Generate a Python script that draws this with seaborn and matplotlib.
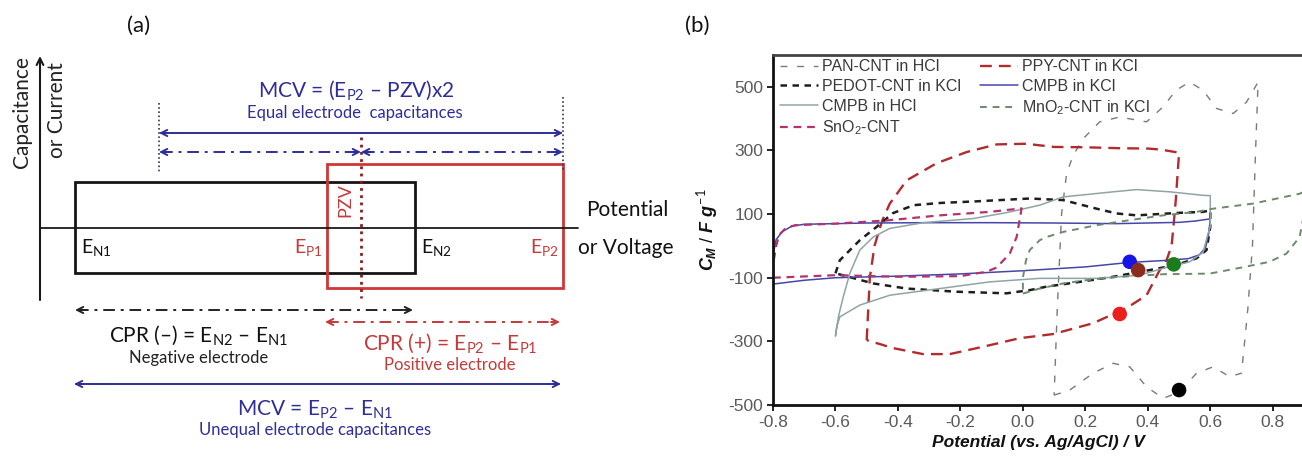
import matplotlib
matplotlib.use("Agg")
import matplotlib.pyplot as plt
from matplotlib.patches import Rectangle
import pandas as pd
import seaborn as sns

# ---------------- data: panel (b) cyclic voltammograms ----------------
pan_x = [0.10, 0.15, 0.225, 0.289, 0.342, 0.396, 0.449, 0.50, 0.556, 0.609, 0.662, 0.70, 0.72, 0.735, 0.745, 0.753,
         0.716, 0.673, 0.62, 0.577, 0.534, 0.49, 0.449, 0.396, 0.31, 0.246, 0.193, 0.161, 0.14, 0.124, 0.11, 0.10]
pan_y = [-469, -453, -400, -369, -380, -443, -479, -460, -400, -380, -411, -400, -200, 0, 300, 515,
         452, 416, 432, 489, 515, 489, 437, 390, 405, 390, 337, 285, 227, 102, -200, -469]

ppy_x = [-0.50, -0.49, -0.475, -0.46, -0.45, -0.426, -0.372, -0.276, -0.18, -0.084, 0.01, 0.10, 0.20, 0.31, 0.40, 0.44,
         0.50, 0.49, 0.482, 0.476, 0.46, 0.438, 0.396, 0.342, 0.31, 0.225, 0.097, -0.01, -0.128, -0.234, -0.32, -0.416, -0.50]
ppy_y = [-296, -100, 0, 50, 80, 133, 206, 260, 295, 319, 321, 311, 310, 307, 306, 303,
         293, 150, 60, 0, -45, -76, -155, -189, -205, -243, -277, -290, -317, -340, -340, -321, -296]

pedot_x = [-0.60, -0.586, -0.522, -0.468, -0.416, -0.35, -0.264, -0.15, 0.022, 0.129, 0.236, 0.30, 0.364, 0.502, 0.577, 0.60,
           0.60, 0.588, 0.556, 0.49, 0.406, 0.289, 0.182, 0.076, 0.022, -0.052, -0.212, -0.372, -0.479, -0.60]
pedot_y = [-86, -45, 18, 60, 103, 128, 135, 140, 149, 144, 117, 102, 96, 104, 107, 112,
           60, -13, -39, -60, -76, -97, -113, -128, -139, -149, -144, -134, -118, -86]

cmpb_kcl_x = [-0.80, -0.70, -0.60, -0.40, -0.20, 0.00, 0.20, 0.34, 0.45, 0.53, 0.565, 0.585, 0.595, 0.60,
              0.55, 0.50, 0.30, 0.10, -0.10, -0.30, -0.50, -0.70, -0.74, -0.77, -0.79, -0.80, -0.80]
cmpb_kcl_y = [-120, -108, -100, -95, -88, -78, -66, -52, -46, -40, -28, -5, 40, 85,
              78, 74, 70, 72, 73, 73, 72, 68, 62, 45, 20, -30, -120]

cmpb_hcl_x = [-0.60, -0.59, -0.575, -0.554, -0.522, -0.479, -0.426, -0.319, -0.159, -0.05, 0.054, 0.129, 0.289, 0.364,
              0.47, 0.577, 0.60, 0.60, 0.593, 0.577, 0.534, 0.45, 0.374, 0.236, 0.054, -0.106, -0.266, -0.426,
              -0.522, -0.586, -0.596, -0.60]
cmpb_hcl_y = [-283, -220, -160, -86, -13, 28, 55, 73, 86, 105, 128, 154, 170, 177,
              170, 159, 158, 60, 40, -20, -50, -70, -92, -102, -102, -113, -134, -155,
              -186, -223, -254, -283]

mno2_x = [0.00, 0.05, 0.129, 0.20, 0.30, 0.449, 0.598, 0.684, 0.79, 0.844, 0.886, 0.90, 0.90,
          0.886, 0.737, 0.609, 0.556, 0.449, 0.342, 0.236, 0.129, 0.076, 0.054, 0.022, 0.01, 0.00, 0.00]
mno2_y = [-150, -135, -118, -108, -98, -89, -87, -71, -50, -24, 28, 100, 170,
          164, 133, 117, 107, 96, 81, 65, 44, 28, 18, -13, -45, -100, -150]

sno2_x = [-0.80, -0.60, -0.40, -0.20, -0.116, -0.084, -0.042, -0.02, -0.004, -0.106, -0.266, -0.436, -0.60,
          -0.73, -0.76, -0.78, -0.79, -0.80, -0.80]
sno2_y = [-100, -92, -97, -95, -81, -68, -24, 28, 118, 107, 96, 80, 70,
          65, 55, 35, 0, -60, -100]

series_names = ["PAN-CNT in HCl", "PPY-CNT in KCl", "PEDOT-CNT in KCl", "CMPB in KCl",
                "CMPB in HCl", "MnO$_{\\mathsf{2}}$-CNT in KCl", "SnO$_{\\mathsf{2}}$-CNT"]

# points marked on curves
dot_x = [0.342, 0.369, 0.483, 0.31, 0.50]
dot_y = [-50, -76, -58, -214, -453]
dot_colors = ["#1515e6", "#8b2c1c", "#1c7c1c", "#ec1f1f", "#000000"]

x_ticks = [-0.8, -0.6, -0.4, -0.2, 0.0, 0.2, 0.4, 0.6, 0.8]
y_ticks = [-500, -300, -100, 100, 300, 500]

# ---------------- data: panel (a) schematic (diagram units) ----------------
E_N1, E_N2 = 75, 415          # negative electrode potential window
E_P1, E_P2 = 327, 563         # positive electrode potential window
PZV = 361                     # potential of zero voltage
E_LEFT_MCV = 159              # left limit of the equal-capacitance MCV
NEG_RECT = (182, 273)         # current levels of the negative electrode box
POS_RECT = (164, 288)         # current levels of the positive electrode box
AXIS_LEVEL = 228

W, H = 1302, 466
sns.set_theme(style="white")
plt.rcParams["font.family"] = ["Liberation Sans", "DejaVu Sans"]
plt.rcParams["mathtext.fontset"] = "custom"
plt.rcParams["mathtext.rm"] = "Lato"
plt.rcParams["mathtext.sf"] = "Liberation Sans"
plt.rcParams["mathtext.it"] = "Liberation Sans:italic:bold"
plt.rcParams["mathtext.bf"] = "Liberation Sans:bold"

fig = plt.figure(figsize=(W / 100, H / 100), dpi=100)
fig.patch.set_facecolor("white")

# ======================= panel (a) =======================
axA = fig.add_axes([0, 0, 660 / W, 1])
axA.set_xlim(0, 660)
axA.set_ylim(H, 0)
axA.axis("off")

BLUE = "#2e2e98"
RED = "#c43a3a"
DARKRED = "#8e1c1c"
LF = ["Lato", "DejaVu Sans"]


def dbl_arrow(ax, x0, x1, y, color, ls):
    ax.plot([x0 + 2, x1 - 2], [y, y], color=color, lw=1.4, ls=ls)
    for xa, xb in ((x0 + 9, x0), (x1 - 9, x1)):
        ax.annotate("", xy=(xb, y), xytext=(xa, y),
                    arrowprops=dict(arrowstyle="->", color=color, lw=1.4, mutation_scale=11,
                                    shrinkA=0, shrinkB=0))


# axes of the schematic
axA.annotate("", xy=(40, 56), xytext=(40, 300),
             arrowprops=dict(arrowstyle="->", color="k", lw=1.5, mutation_scale=12, shrinkA=0, shrinkB=0))
axA.plot([40, 578], [AXIS_LEVEL, AXIS_LEVEL], color="k", lw=1.3)

axA.add_patch(Rectangle((E_N1, NEG_RECT[0]), E_N2 - E_N1, NEG_RECT[1] - NEG_RECT[0],
                        fill=False, ec="#151515", lw=2.0))
axA.add_patch(Rectangle((E_P1, POS_RECT[0]), E_P2 - E_P1, POS_RECT[1] - POS_RECT[0],
                        fill=False, ec="#cf3636", lw=2.0))
axA.plot([PZV, PZV], [137, 298], color=DARKRED, ls=(0, (1, 1.6)), lw=2)
axA.plot([E_LEFT_MCV, E_LEFT_MCV], [103, 172], color="#333355", ls=(0, (1, 1.5)), lw=1.2)
axA.plot([E_P2, E_P2], [97, 170], color="#333355", ls=(0, (1, 1.5)), lw=1.2)

dbl_arrow(axA, E_LEFT_MCV, E_P2, 133, BLUE, "-")
dbl_arrow(axA, E_LEFT_MCV, PZV, 152, BLUE, (0, (6, 3, 1.5, 3)))
dbl_arrow(axA, PZV, E_P2, 152, BLUE, (0, (6, 3, 1.5, 3)))
dbl_arrow(axA, E_N1, E_N2 - 2, 310, "#222222", (0, (6, 3, 1.5, 3)))
dbl_arrow(axA, E_P1 - 2, E_P2 - 3, 322, RED, (0, (6, 3, 1.5, 3)))
dbl_arrow(axA, E_N1 - 1, E_P2 - 2, 384, BLUE, "-")

axA.text(139, 26, "(a)", fontsize=16, family=LF, ha="center", va="center", color="#111")
axA.text(22, 112, "Capacitance", fontsize=15, family=LF, rotation=90, ha="center", va="center", color="#222")
axA.text(57, 110, "or Current", fontsize=15, family=LF, rotation=90, ha="center", va="center", color="#222")
axA.text(356, 90, "MCV = (E$_{\\mathrm{P2}}$ \u2013 PZV)x2", fontsize=15, family=LF, ha="center", va="center", color=BLUE)
axA.text(355, 113, "Equal electrode  capacitances", fontsize=12, family=LF, ha="center", va="center", color=BLUE)
axA.text(345, 200, "PZV", fontsize=13, family=LF, rotation=90, ha="center", va="center", color=RED)
axA.text(81, 248, "E$_{\\mathrm{N1}}$", fontsize=14, family=LF, ha="left", va="center", color="#111")
axA.text(323, 248, "E$_{\\mathrm{P1}}$", fontsize=14, family=LF, ha="right", va="center", color=RED)
axA.text(421, 248, "E$_{\\mathrm{N2}}$", fontsize=14, family=LF, ha="left", va="center", color="#111")
axA.text(559, 248, "E$_{\\mathrm{P2}}$", fontsize=14, family=LF, ha="right", va="center", color=RED)
axA.text(586, 210, "Potential", fontsize=15, family=LF, ha="left", va="center", color="#111")
axA.text(578, 248, "or Voltage", fontsize=15, family=LF, ha="left", va="center", color="#111")
axA.text(199, 335, "CPR (\u2013) = E$_{\\mathrm{N2}}$ \u2013 E$_{\\mathrm{N1}}$", fontsize=15, family=LF,
         ha="center", va="center", color="#111")
axA.text(199, 358, "Negative electrode", fontsize=12, family=LF, ha="center", va="center", color="#222")
axA.text(450, 343, "CPR (+) = E$_{\\mathrm{P2}}$ \u2013 E$_{\\mathrm{P1}}$", fontsize=15, family=LF,
         ha="center", va="center", color=RED)
axA.text(450, 365, "Positive electrode", fontsize=12, family=LF, ha="center", va="center", color=RED)
axA.text(315, 410, "MCV = E$_{\\mathrm{P2}}$ \u2013 E$_{\\mathrm{N1}}$", fontsize=15, family=LF,
         ha="center", va="center", color=BLUE)
axA.text(315, 430, "Unequal electrode capacitances", fontsize=12, family=LF, ha="center", va="center", color=BLUE)

fig.text(697 / W, 1 - 26 / H, "(b)", fontsize=16, family=LF, ha="center", va="center", color="#111")

# ======================= panel (b) =======================
axB = fig.add_axes([773 / W, 61 / H, 531 / W, 350 / H])
axB.set_facecolor("white")

curves = [
    (pan_x, pan_y, "#7a7a7a", 1.0, (0, (5, 7))),
    (ppy_x, ppy_y, "#b22b2e", 1.7, (0, (5, 3))),
    (pedot_x, pedot_y, "#1e1e1e", 1.8, (0, (2.6, 2.2))),
    (cmpb_kcl_x, cmpb_kcl_y, "#4646a8", 1.1, "-"),
    (cmpb_hcl_x, cmpb_hcl_y, "#8fa5a5", 1.1, "-"),
    (mno2_x, mno2_y, "#6d8a6d", 1.4, (0, (3.5, 3))),
    (sno2_x, sno2_y, "#b2336e", 1.6, (0, (3.5, 2.6))),
]
handles = []
for name, (xs, ys, col, lw, ls) in zip(series_names, curves):
    df = pd.DataFrame({"E": xs, "C": ys})
    sns.lineplot(data=df, x="E", y="C", sort=False, estimator=None, ax=axB,
                 color=col, linewidth=lw, linestyle=ls, label=name)
    handles.append(axB.lines[-1])

dots = pd.DataFrame({"E": dot_x, "C": dot_y, "k": list(range(len(dot_x)))})
sns.scatterplot(data=dots, x="E", y="C", hue="k", palette=dot_colors, s=110, linewidth=0,
                ax=axB, legend=False, zorder=5)

axB.set_xlim(-0.8, 0.9)
axB.set_ylim(-500, 600)
axB.set_xticks(x_ticks)
axB.set_xticklabels([f"{v:.1f}" for v in x_ticks])
axB.set_yticks(y_ticks)
axB.set_yticklabels([str(v) for v in y_ticks])
axB.tick_params(direction="out", length=4, width=1.4, color="#222", labelsize=12.5,
                labelcolor="#5a5a5a", pad=3, left=True, bottom=True)
for side in ("left", "bottom"):
    axB.spines[side].set_color("#111")
    axB.spines[side].set_linewidth(2)
axB.spines["top"].set_color("#444")
axB.spines["top"].set_linewidth(2)
axB.spines["right"].set_color("#444")
axB.spines["right"].set_linewidth(2)

axB.set_xlabel("Potential (vs. Ag/AgCl) / V", fontsize=12.5, fontweight="bold", fontstyle="italic",
               color="#111", labelpad=4)
axB.set_ylabel("$\\mathit{C_M}$ / $\\mathit{F}$ $\\mathit{g^{-1}}$", fontsize=13, color="#111", labelpad=6)

order = [0, 2, 4, 6, 1, 3, 5]
leg = axB.legend([handles[i] for i in order], [series_names[i] for i in order], ncol=2,
                 loc="upper left", bbox_to_anchor=(0.008, 0.995), frameon=False, fontsize=11.5,
                 handlelength=2.4, handletextpad=0.25, columnspacing=1.2, labelspacing=0.3,
                 borderaxespad=0, borderpad=0.15)
for t in leg.get_texts():
    t.set_color("#3a3a3a")

fig.savefig("out.png", dpi=100, facecolor="white")
